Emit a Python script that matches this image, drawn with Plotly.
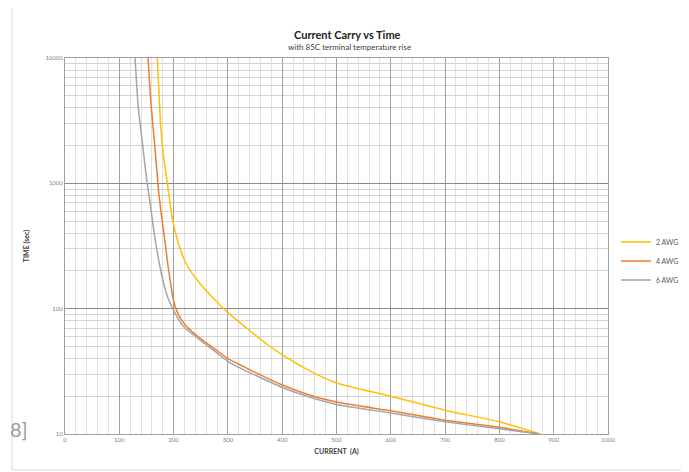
import plotly.graph_objects as go

current_2awg = [170, 175, 180, 190, 197, 205, 212, 225, 243, 270, 300, 340, 372, 400, 450, 500, 600, 700, 800, 875]
time_2awg = [10000, 3500, 1850, 900, 540, 380, 300, 220, 170, 125, 93, 67, 52, 43, 32, 25.5, 20, 15.5, 12.5, 10]

current_4awg = [153, 158, 166, 172, 178, 185, 190, 195, 199, 205, 212, 224, 249, 275, 300, 320, 350, 400, 450, 500, 600, 700, 800, 875]
time_4awg = [10000, 4500, 1850, 900, 540, 320, 215, 155, 120, 98, 85, 72, 58, 48, 40, 36, 31, 24.6, 20.5, 18, 15.3, 12.9, 11.3, 10]

current_6awg = [129, 135, 144, 150, 156, 165, 175, 185, 191, 197, 205, 213, 221, 249, 275, 300, 320, 350, 400, 450, 500, 600, 700, 800, 875]
time_6awg = [10000, 4000, 1850, 1100, 736, 380, 215, 140, 118, 103, 88, 77, 70, 56, 46, 38, 34, 29.5, 23.5, 19.7, 17.2, 14.7, 12.5, 11, 10]

x_ticks = [0, 100, 200, 300, 400, 500, 600, 700, 800, 900, 1000]
y_ticks = [10, 100, 1000, 10000]

FONT = "Lato"
W, H = 689, 472
OFF = 8  # page body margin offset
# target plot area on the page: x 65..608, y 58..434
PL, PR, PT, PB = 65, 608, 58, 434
L = PL - OFF
T = PT - OFF
pw = PR - PL
ph = PB - PT
R = W - L - pw
B = H - T - ph

fig = go.Figure()
fig.add_trace(go.Scatter(x=current_2awg, y=time_2awg, mode="lines", name="2 AWG",
                         line=dict(color="#FFC000", width=1.5, shape="spline", smoothing=0.5)))
fig.add_trace(go.Scatter(x=current_4awg, y=time_4awg, mode="lines", name="4 AWG",
                         line=dict(color="#ED7D31", width=1.5, shape="spline", smoothing=0.5)))
fig.add_trace(go.Scatter(x=current_6awg, y=time_6awg, mode="lines", name="6 AWG",
                         line=dict(color="#A5A5A5", width=1.5, shape="spline", smoothing=0.5)))


def px(xp):
    # page pixel x -> paper
    return (xp - PL) / pw


def py(yp):
    # page pixel y -> paper
    return (PB - yp) / ph


fig.update_layout(
    width=W, height=H,
    margin=dict(l=L, r=R, t=T, b=B, autoexpand=False),
    paper_bgcolor="white", plot_bgcolor="white",
    font=dict(family=FONT, color="#595959", size=6),
    showlegend=True,
    legend=dict(x=px(616), y=py(261), xanchor="left", yanchor="middle",
                font=dict(size=7, color="#595959", family=FONT),
                itemwidth=30, tracegroupgap=0, bgcolor="rgba(0,0,0,0)"),
    xaxis=dict(range=[0, 1000], tickvals=x_ticks, ticktext=[str(v) for v in x_ticks],
               showgrid=True, gridcolor="#a0a0a0", gridwidth=1,
               minor=dict(dtick=20, showgrid=True, gridcolor="#e0e0e0", gridwidth=1),
               showline=True, linecolor="#a0a0a0", mirror=True, automargin=False,
               zeroline=False, ticks="", tickfont=dict(size=6, color="#7f7f7f"),
               title=dict(text="<b>CURRENT  (A)</b>", font=dict(size=7, color="#404040"), standoff=6)),
    yaxis=dict(type="log", range=[1, 4], tickvals=y_ticks, ticktext=[str(v) for v in y_ticks],
               showgrid=True, gridcolor="#8a8a8a", gridwidth=1,
               minor=dict(dtick="D1", showgrid=True, gridcolor="#d4d4d4", gridwidth=1),
               showline=True, linecolor="#a0a0a0", mirror=True, automargin=False,
               zeroline=False, ticks="", tickfont=dict(size=6, color="#7f7f7f"),
               title=dict(text="<b>TIME (sec)</b>", font=dict(size=7, color="#404040"), standoff=14)),
)

fig.add_annotation(text="<b>Current Carry vs Time</b>", x=px(347), y=py(26), xref="paper", yref="paper",
                   showarrow=False, font=dict(size=11, color="#222222", family=FONT))
fig.add_annotation(text="with 85C terminal temperature rise", x=px(349), y=py(40), xref="paper", yref="paper",
                   showarrow=False, font=dict(size=8, color="#404040", family=FONT))

# outer frame of the chart object
fig.add_shape(type="rect", xref="paper", yref="paper", x0=px(12), x1=px(685), y0=py(470), y1=py(4),
              line=dict(color="#d9d9d9", width=1))
fig.add_annotation(text="8]", x=px(OFF), y=py(443), xref="paper", yref="paper", xanchor="left",
                   showarrow=False, font=dict(size=20, color="#9a9a9a", family=FONT))

fig.write_html("out.html")
